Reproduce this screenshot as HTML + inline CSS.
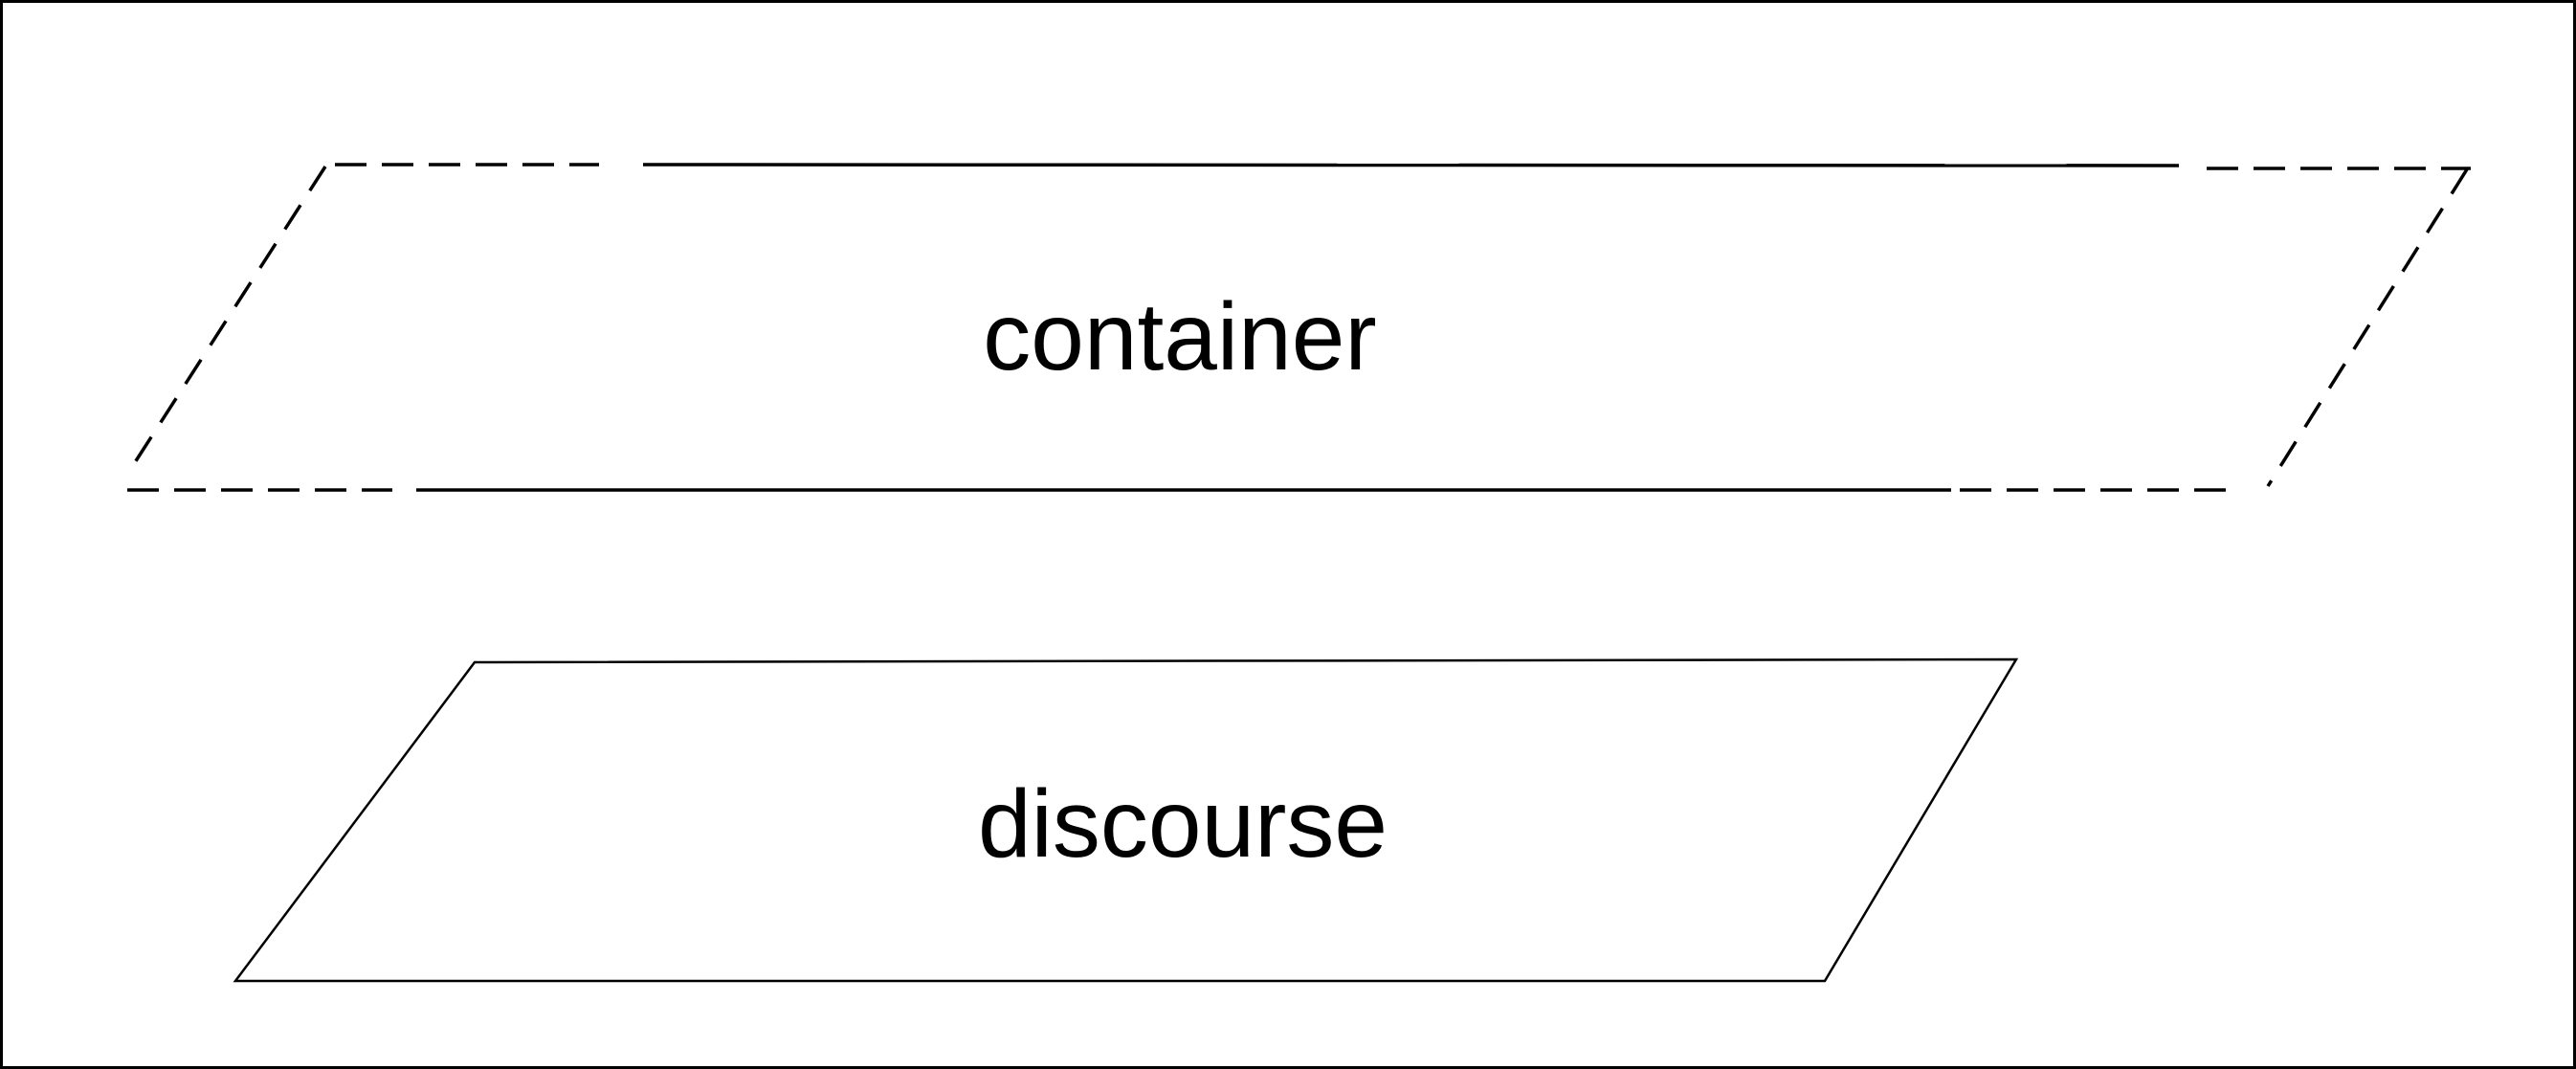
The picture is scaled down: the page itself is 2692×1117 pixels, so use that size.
<!DOCTYPE html>
<html><head><style>
html,body{margin:0;padding:0;background:#fff;}
svg{display:block;}
</style></head><body>
<svg width="2692" height="1117" viewBox="0 0 2692 1117" xmlns="http://www.w3.org/2000/svg">
<rect x="1.5" y="1.5" width="2689" height="1114" fill="#fff" stroke="#000" stroke-width="3"/>
<g stroke="#000" stroke-width="3.5" fill="none">
<line x1="350" y1="172" x2="626" y2="172" stroke-dasharray="33,16"/>
<line x1="672" y1="172" x2="2277" y2="173"/>
<line x1="2306" y1="176" x2="2582" y2="176" stroke-dasharray="33,16"/>
<line x1="340" y1="174" x2="134" y2="494" stroke-dasharray="30,18"/>
<line x1="133" y1="512" x2="410" y2="512" stroke-dasharray="33,16"/>
<line x1="435" y1="512" x2="2039" y2="512"/>
<line x1="2048" y1="512" x2="2330" y2="512" stroke-dasharray="33,16"/>
<line x1="2578" y1="177" x2="2370" y2="508" stroke-dasharray="30,18"/>
<polygon points="496,692 2107,689 1907,1025 246,1025" stroke-width="2.5"/>
</g>
<g font-family="Liberation Sans, sans-serif" font-size="100" text-anchor="middle" fill="#000">
<text x="1233" y="386">container</text>
<text x="1236" y="895">discourse</text>
</g>
</svg>
</body></html>
